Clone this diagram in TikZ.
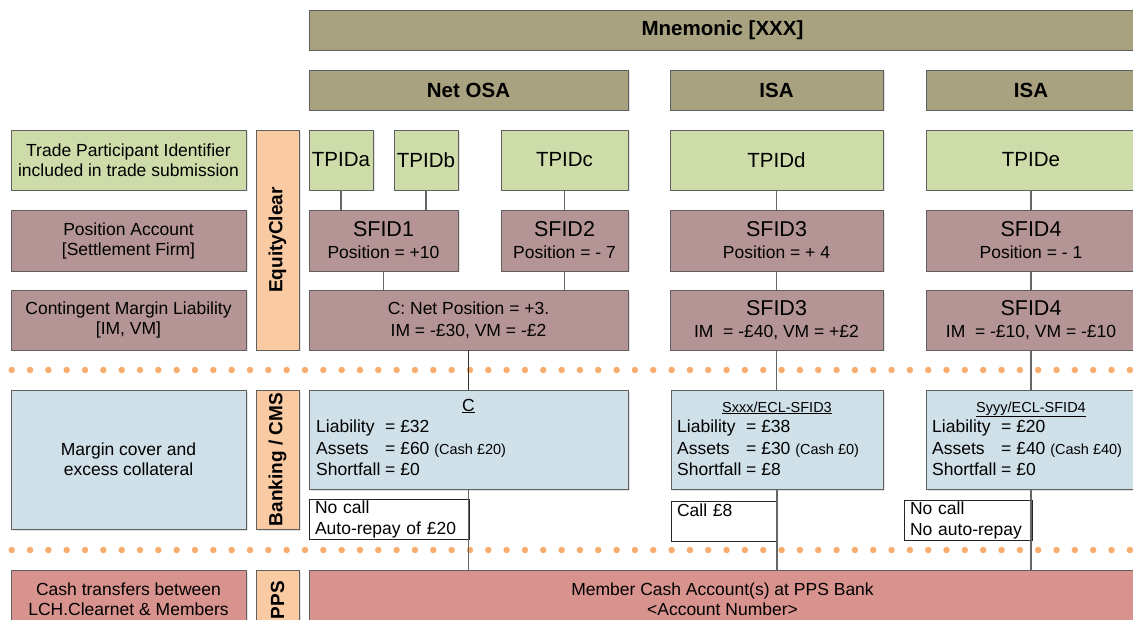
\documentclass[tikz,border=0pt]{standalone}
\usepackage{fontspec}
\setmainfont{Liberation Sans}
\usetikzlibrary{shadows}

\definecolor{hdrolive}{RGB}{168,162,128}
\definecolor{tpgreen}{RGB}{205,220,168}
\definecolor{posmauve}{RGB}{180,148,148}
\definecolor{barpeach}{RGB}{250,202,162}
\definecolor{cmsblue}{RGB}{207,224,232}
\definecolor{ppsred}{RGB}{217,147,142}
\definecolor{dotorange}{RGB}{248,172,110}
\definecolor{edgegray}{RGB}{95,95,95}

\newcommand{\sfid}[1]{{\fontsize{21.5}{22}\selectfont #1}}
\newcommand{\cashnote}[1]{{\fontsize{14.5}{21}\selectfont #1}}
\newcommand{\fld}[1]{\makebox[69pt][l]{#1}}

\tikzset{
  cell/.style={draw=edgegray, line width=0.9pt, inner sep=0pt, align=center,
    drop shadow={shadow xshift=1.5pt, shadow yshift=-1.5pt, fill=black!22}},
  hdrbox/.style={cell, fill=hdrolive, minimum height=40pt, font=\bfseries\fontsize{20.5}{24}\selectfont},
  tpbox/.style={cell, fill=tpgreen, minimum height=60pt, font=\fontsize{20.5}{24}\selectfont},
  posbox/.style={cell, fill=posmauve, minimum height=61pt, font=\fontsize{17.5}{22}\selectfont},
  marbox/.style={cell, fill=posmauve, minimum height=60pt, font=\fontsize{17.5}{22}\selectfont},
  lblbox/.style={cell, minimum width=235pt, font=\fontsize{17.5}{20}\selectfont},
  barbox/.style={cell, fill=barpeach, minimum width=43pt},
  barlbl/.style={rotate=90, inner sep=0pt, font=\bfseries\fontsize{19}{22}\selectfont},
  cmsbox/.style={cell, fill=cmsblue, minimum height=99pt},
  cmstitle/.style={inner sep=0pt, anchor=base, font=\fontsize{17.5}{21}\selectfont},
  cmsbody/.style={inner sep=0pt, anchor=north west, align=left, font=\fontsize{17.5}{21.5}\selectfont},
  callbox/.style={draw=black!85, line width=0.8pt, fill=white, inner xsep=6pt, inner ysep=0pt,
    minimum height=40pt, align=left, font=\fontsize{17.5}{21}\selectfont},
  ppsbox/.style={cell, fill=ppsred, minimum height=58pt, font=\fontsize{17.5}{20}\selectfont},
  link/.style={draw=black!60, line width=1.2pt},
  dotrow/.style={draw=dotorange, line width=6.5pt, line cap=round, dash pattern=on 0pt off 18.33pt}
}

\begin{document}
\begin{tikzpicture}[x=1pt, y=-1pt]
  \useasboundingbox (0,0) rectangle (1133,620);
  \clip (0,0) rectangle (1133,620);

  % headers
  \node[hdrbox, minimum width=827pt] (mnem) at (722.5,30) {Mnemonic [XXX]};
  \node[hdrbox, minimum width=319pt] (netosa) at (468.5,90) {Net OSA};
  \node[hdrbox, minimum width=213pt] (isaa) at (776.5,90) {ISA};
  \node[hdrbox, minimum width=210pt] (isab) at (1031,90) {ISA};

  % left column
  \node[lblbox, fill=tpgreen, minimum height=60pt] (lbltp) at (128.5,160) {Trade Participant Identifier\\included in trade submission};
  \node[lblbox, fill=posmauve, minimum height=61pt] (lblpos) at (128.5,240.5) {Position Account\\{[Settlement Firm]}};
  \node[lblbox, fill=posmauve, minimum height=60pt] (lblcml) at (128.5,320) {Contingent Margin Liability\\{[IM, VM]}};
  \node[lblbox, fill=cmsblue, minimum height=139pt] (lblcms) at (128.5,459.5) {Margin cover and\\excess collateral};
  \node[lblbox, fill=ppsred, minimum height=58pt] (lblpps) at (128.5,599) {Cash transfers between\\LCH.Clearnet \& Members};

  % vertical bars
  \node[barbox, minimum height=220pt] (eqbar) at (277.5,240) {};
  \node[barlbl] (eqlbl) at (eqbar.center) {EquityClear};
  \node[barbox, minimum height=139pt] (cmsbar) at (277.5,459.5) {};
  \node[barlbl] (cmslbl) at (cmsbar.center) {Banking / CMS};
  \node[barbox, minimum height=58pt] (ppsbar) at (277.5,599) {};
  \node[barlbl] (ppslbl) at (277.5,600) {PPS};

  % trade participant ids
  \node[tpbox, minimum width=64pt] (tpida) at (341,160) {TPIDa};
  \node[tpbox, minimum width=64pt] (tpidb) at (426,160) {TPIDb};
  \node[tpbox, minimum width=127pt] (tpidc) at (564.5,160) {TPIDc};
  \node[tpbox, minimum width=213pt] (tpidd) at (776.5,160) {TPIDd};
  \node[tpbox, minimum width=210pt] (tpide) at (1031,160) {TPIDe};

  % position accounts
  \node[posbox, minimum width=149pt] (sfida) at (383.5,240.5) {\sfid{SFID1}\\Position = +10};
  \node[posbox, minimum width=127pt] (sfidb) at (564.5,240.5) {\sfid{SFID2}\\Position = - 7};
  \node[posbox, minimum width=213pt] (sfidc) at (776.5,240.5) {\sfid{SFID3}\\Position = + 4};
  \node[posbox, minimum width=210pt] (sfidd) at (1031,240.5) {\sfid{SFID4}\\Position = - 1};

  % contingent margin liability
  \node[marbox, minimum width=319pt] (cmla) at (468.5,320) {C: Net Position = +3.\\IM = -£30, VM = -£2};
  \node[marbox, minimum width=213pt] (cmlc) at (776.5,320) {\sfid{SFID3}\\IM \ = -£40, VM = +£2};
  \node[marbox, minimum width=210pt] (cmld) at (1031,320) {\sfid{SFID4}\\IM \ = -£10, VM = -£10};

  % separators
  \draw[dotrow] (11.7,370) -- (1140,370);
  \draw[dotrow] (11.7,550) -- (1140,550);

  % banking / cms
  \node[cmsbox, minimum width=319pt] (cmsa) at (468.5,439.5) {};
  \node[cmstitle] (cmsatit) at (468.5,411) {\underline{C}};
  \node[cmsbody] (cmsabody) at (316,420) {\fld{Liability}= £32\\\fld{Assets}= £60 \cashnote{(Cash £20)}\\\fld{Shortfall}= £0};
  \node[cmsbox, minimum width=212pt] (cmsc) at (777,439.5) {};
  \node[cmstitle, font=\fontsize{14.5}{18}\selectfont] (cmsctit) at (777,412) {\underline{Sxxx/ECL-SFID3}};
  \node[cmsbody] (cmscbody) at (677,420) {\fld{Liability}= £38\\\fld{Assets}= £30 \cashnote{(Cash £0)}\\\fld{Shortfall}= £8};
  \node[cmsbox, minimum width=210pt] (cmsd) at (1031,439.5) {};
  \node[cmstitle, font=\fontsize{14.5}{18}\selectfont] (cmsdtit) at (1031,412) {\underline{Syyy/ECL-SFID4}};
  \node[cmsbody] (cmsdbody) at (932,420) {\fld{Liability}= £20\\\fld{Assets}= £40 \cashnote{(Cash £40)}\\\fld{Shortfall}= £0};

  % calls
  \node[callbox, text width=148pt] (calla) at (389,519) {No call\\Auto-repay of £20};
  \node[callbox, text width=94pt] (callc) at (724,521) {Call £8\\\mbox{}};
  \node[callbox, text width=116pt] (calld) at (968,520.5) {No call\\No auto-repay};

  % pps
  \node[ppsbox, minimum width=827pt] (ppsacc) at (722.5,599) {Member Cash Account(s) at PPS Bank\\<Account Number>};

  % links
  \draw[link] (tpida.south) -- (tpida.south |- sfida.north);
  \draw[link] (tpidb.south) -- (tpidb.south |- sfida.north);
  \draw[link] (tpidc.south) -- (sfidb.north);
  \draw[link] (tpidd.south) -- (sfidc.north);
  \draw[link] (tpide.south) -- (sfidd.north);
  \draw[link] (sfida.south) -- (sfida.south |- cmla.north);
  \draw[link] (sfidb.south) -- (sfidb.south |- cmla.north);
  \draw[link] (sfidc.south) -- (cmlc.north);
  \draw[link] (sfidd.south) -- (cmld.north);
  \draw[link, draw=black!80] (cmla.south) -- (cmsa.north);
  \draw[link] (cmlc.south) -- (cmlc.south |- cmsc.north);
  \draw[link] (cmld.south) -- (cmld.south |- cmsd.north);
  \draw[link] (cmsa.south) -- (cmsa.south |- ppsacc.north);
  \draw[link] (cmsc.south) -- (cmsc.south |- ppsacc.north);
  \draw[link] (cmsd.south) -- (cmsd.south |- ppsacc.north);
\end{tikzpicture}
\end{document}
